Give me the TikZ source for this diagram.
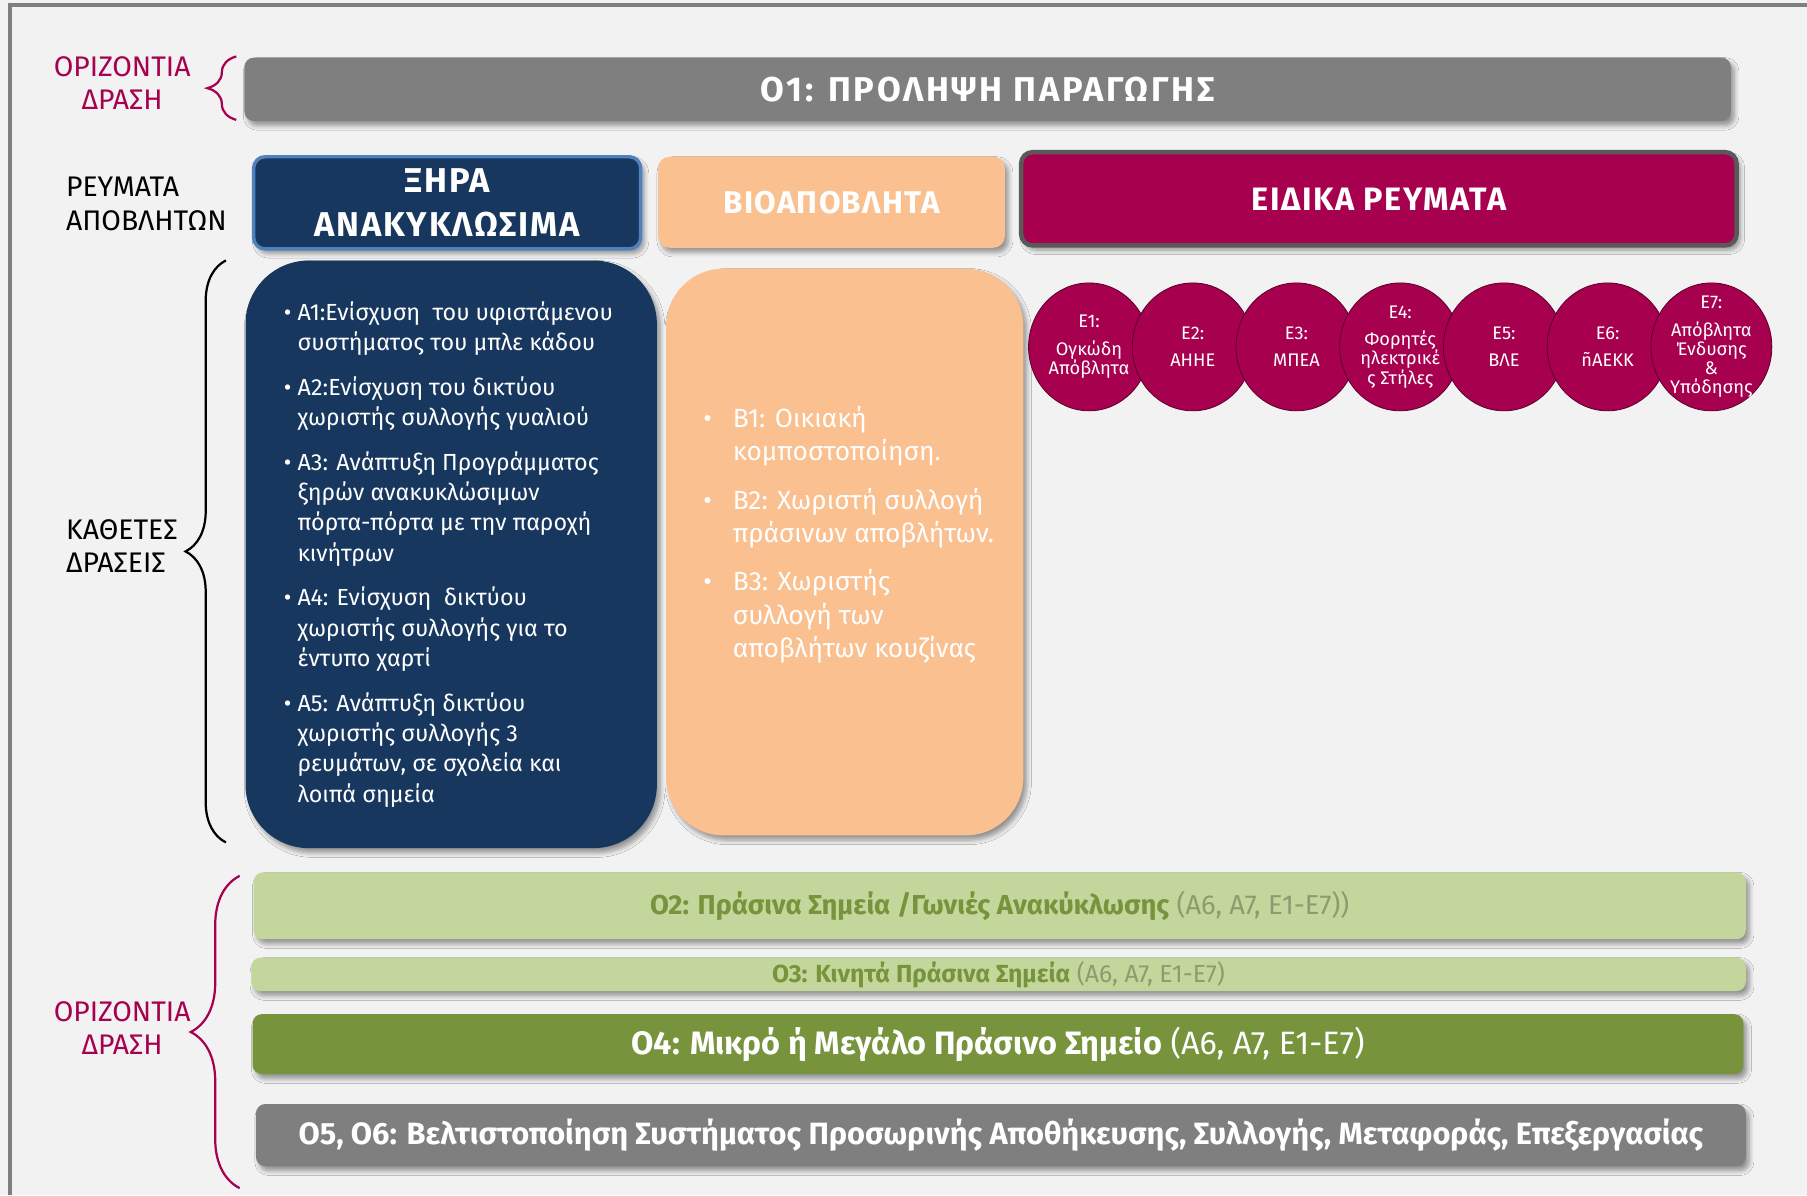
\documentclass[tikz,border=0pt]{standalone}
\usepackage{fontspec}
\setmainfont{Fira Sans}
\usetikzlibrary{shapes.geometric, shadows, shadows.blur, decorations.pathreplacing, positioning}
\definecolor{bgcol}{HTML}{F2F2F2}
\definecolor{framegray}{HTML}{7F7F7F}
\definecolor{bargray}{HTML}{7F7F7F}
\definecolor{navy}{HTML}{17375E}
\definecolor{navyedge}{HTML}{4F81BD}
\definecolor{peach}{HTML}{FAC090}
\definecolor{crimson}{HTML}{A6004F}
\definecolor{crimsonedge}{HTML}{595959}
\definecolor{lightgreen}{HTML}{C3D69B}
\definecolor{darkgreen}{HTML}{77933C}
\definecolor{greygreen}{HTML}{8E9B6E}
\tikzstyle{softshadow}=[blur shadow={shadow xshift=0.06cm, shadow yshift=-0.08cm,
  shadow blur radius=0.08cm, shadow blur steps=6}]
\tikzstyle{bar}=[rectangle, rounded corners=0.16cm, text=white, inner sep=0pt,
  softshadow]
\tikzstyle{head}=[rectangle, rounded corners=0.2cm, text=white, align=center,
  inner sep=0pt, font=\fontsize{16}{18}\selectfont\bfseries\addfontfeature{LetterSpace=5},
  softshadow]
\tikzstyle{bigbox}=[rectangle, inner sep=0pt, softshadow]
\tikzstyle{sidelbl}=[font=\fontsize{14}{16.5}\selectfont, align=center, inner sep=0pt]
\tikzstyle{listtxt}=[text=white, align=left, inner sep=0pt]
\tikzstyle{disc}=[ellipse, fill=crimson, draw=crimson!55!black, line width=0.4pt,
  minimum width=2.1cm, minimum height=2.22cm, inner sep=0pt]
\tikzstyle{disctxt}=[text=white, align=center, inner sep=0pt,
  font=\fontsize{9}{9.5}\selectfont]
\tikzstyle{brc}=[decorate, line width=1.1pt]
\newcommand{\bul}{\textbullet\ }
\newcommand{\ind}{\phantom{\textbullet\ }}

\begin{document}
\begin{tikzpicture}[x=0.02cm, y=-0.02cm]
  \useasboundingbox (0,0) rectangle (1568,1037);
  \fill[bgcol] (0,0) rectangle (1568,1037);
  \draw[framegray, line width=0.07cm] (9,1037) -- (9,4) -- (1568,4);

  % horizontal action on top
  \node[bar, fill=bargray, minimum width=25.8cm, minimum height=1.1cm,
    font=\fontsize{17}{20}\selectfont\bfseries\addfontfeature{LetterSpace=8}]
    (o1) at (857,77.5) {Ο1: ΠΡΟΛΗΨΗ ΠΑΡΑΓΩΓΗΣ};
  \node[sidelbl, text=crimson] (hor1) at (106,72) {ΟΡΙΖΟΝΤΙΑ\\ΔΡΑΣΗ};
  \draw[brc, crimson, decoration={brace, amplitude=0.5cm}] (205,104) -- (205,49);

  % waste streams
  \node[sidelbl, align=left, anchor=west] (streams) at (57,177) {ΡΕΥΜΑΤΑ\\ΑΠΟΒΛΗΤΩΝ};
  \node[head, fill=navy, draw=navyedge, line width=1.7pt, minimum width=6.72cm,
    minimum height=1.6cm,
    font=\fontsize{17}{21.5}\selectfont\bfseries\addfontfeature{LetterSpace=5}]
    (dry) at (388,176) {ΞΗΡΑ\\ΑΝΑΚΥΚΛΩΣΙΜΑ};
  \node[head, fill=peach, minimum width=6.02cm, minimum height=1.58cm,
    font=\fontsize{15.5}{18}\selectfont\bfseries\addfontfeature{LetterSpace=4}]
    (bio) at (721.5,175.5) {ΒΙΟΑΠΟΒΛΗΤΑ};
  \node[head, fill=crimson, draw=crimsonedge, line width=2.2pt, minimum width=12.42cm,
    minimum height=1.62cm] (spec) at (1196.5,172.5) {ΕΙΔΙΚΑ ΡΕΥΜΑΤΑ};

  % vertical actions
  \node[sidelbl, align=left, anchor=west] (vert) at (57,474) {ΚΑΘΕΤΕΣ\\ΔΡΑΣΕΙΣ};
  \draw[brc, black, decoration={brace, amplitude=0.7cm}] (196,731) -- (196,226);
  \node[bigbox, fill=navy, minimum width=7.14cm, minimum height=10.2cm,
    rounded corners=1.1cm] (dryacts) at (391.5,481) {};
  \node[bigbox, fill=peach, minimum width=6.2cm, minimum height=9.84cm,
    rounded corners=1cm] (bioacts) at (733,479) {};
  \node[listtxt, anchor=west, font=\fontsize{11.5}{15}\selectfont] (alist) at (246,481) {%
    \bul Α1:Ενίσχυση \ του υφιστάμενου\\
    \ind συστήματος του μπλε κάδου\\[7pt]
    \bul Α2:Ενίσχυση του δικτύου\\
    \ind χωριστής συλλογής γυαλιού\\[7pt]
    \bul Α3: Ανάπτυξη Προγράμματος\\
    \ind ξηρών ανακυκλώσιμων\\
    \ind πόρτα-πόρτα με την παροχή\\
    \ind κινήτρων\\[7pt]
    \bul Α4: Ενίσχυση \ δικτύου\\
    \ind χωριστής συλλογής για το\\
    \ind έντυπο χαρτί\\[7pt]
    \bul Α5: Ανάπτυξη δικτύου\\
    \ind χωριστής συλλογής 3\\
    \ind ρευμάτων, σε σχολεία και\\
    \ind λοιπά σημεία};
  \node[listtxt, anchor=west, font=\fontsize{13}{16.5}\selectfont] (blist) at (610,464) {%
    \bul\ \ Β1: Οικιακή\\
    \ind\ \ κομποστοποίηση.\\[7.4pt]
    \bul\ \ Β2: Χωριστή συλλογή\\
    \ind\ \ πράσινων αποβλήτων.\\[7.4pt]
    \bul\ \ Β3: Χωριστής\\
    \ind\ \ συλλογή των\\
    \ind\ \ αποβλήτων κουζίνας};

  \foreach \n/\txt [count=\k from 0] in {1/{Ογκώδη\\Απόβλητα}, 2/ΑΗΗΕ, 3/ΜΠΕΑ,
      4/{Φορητές\\ηλεκτρικέ\\ς Στήλες}, 5/ΒΛΕ, 6/ñΑΕΚΚ,
      7/{Απόβλητα\\Ένδυσης\\\&\\Υπόδησης}}{
    \node[disc] (e\n) at (945+90*\k,301) {};
    \node[disctxt] (t\n) at (e\n) {Ε\n:\\[4pt]\txt};
  }

  % horizontal actions at the bottom
  \node[bar, fill=lightgreen, minimum width=25.9cm, minimum height=1.16cm,
    text=darkgreen, font=\fontsize{13.5}{16}\selectfont] (o2) at (867.5,786)
    {\textbf{Ο2: Πράσινα Σημεία /Γωνιές Ανακύκλωσης} \textcolor{greygreen}{(Α6, Α7, Ε1-Ε7))}};
  \node[bar, fill=lightgreen, minimum width=25.94cm, minimum height=0.58cm,
    text=darkgreen, font=\fontsize{12.2}{14}\selectfont] (o3) at (866.5,845.5)
    {\textbf{Ο3: Κινητά Πράσινα Σημεία} \textcolor{greygreen}{(Α6, Α7, Ε1-Ε7)}};
  \node[bar, fill=darkgreen, minimum width=25.88cm, minimum height=1.04cm,
    font=\fontsize{16}{19}\selectfont] (o4) at (866,906)
    {\textbf{Ο4: Μικρό ή Μεγάλο Πράσινο Σημείο} (Α6, Α7, Ε1-Ε7)};
  \node[bar, fill=bargray, minimum width=25.86cm, minimum height=1.08cm,
    font=\fontsize{15.2}{18}\selectfont\bfseries] (o5) at (868.5,985)
    {Ο5, Ο6: Βελτιστοποίηση Συστήματος Προσωρινής Αποθήκευσης, Συλλογής, Μεταφοράς, Επεξεργασίας};
  \node[sidelbl, text=crimson] (hor2) at (106,892) {ΟΡΙΖΟΝΤΙΑ\\ΔΡΑΣΗ};
  \draw[brc, crimson, decoration={brace, amplitude=0.85cm}] (208,1031) -- (208,760);
\end{tikzpicture}
\end{document}
